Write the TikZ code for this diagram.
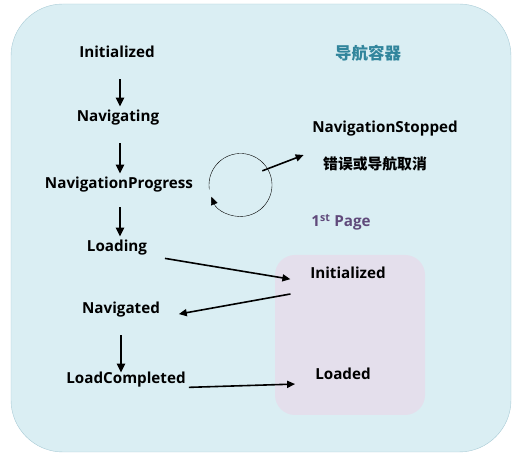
\documentclass[tikz,border=0pt]{standalone}
\usepackage{fontspec}
\setmainfont{Open Sans}
\newfontfamily\cjk{Noto Sans CJK SC}
\usepackage{tikz}
\usetikzlibrary{arrows.meta,calc}

\definecolor{navbg}{HTML}{DAEEF3}
\definecolor{navline}{HTML}{A9CBD6}
\definecolor{pagebg}{HTML}{E4DFEC}
\definecolor{navtitle}{HTML}{31859C}
\definecolor{pagetitle}{HTML}{604A7B}

\tikzset{
  state/.style={font=\fontsize{15.2}{17}\selectfont\bfseries, inner sep=0pt, text height=11pt, text depth=3.5pt},
  flow/.style={-{Triangle[length=9pt,width=8pt]}, line width=2.3pt, shorten <=18pt, shorten >=4pt},
  jump/.style={-{Triangle[length=8pt,width=7pt]}, line width=1.6pt},
}

\begin{document}
\begin{tikzpicture}[x=1pt,y=1pt]
			\useasboundingbox (0,0) rectangle (517,455);
			\draw[navline, fill=navbg, rounded corners=52pt] (11,3) rectangle (511,451);
			\fill[pagebg, rounded corners=20pt] (275,40) rectangle (425,200);
			
			\node [state] (init) at (117,401) {Initialized};
			\node [state] (navg) at (118,337) {Navigating};
			\node [state] (prog) at (119,270) {NavigationProgress};
			\node [state] (load) at (117,207) {Loading};
			\node [state] (navd) at (121,145) {Navigated};
			\node [state] (done) at (126,75) {LoadCompleted};
			
			\node [font=\fontsize{16.5}{18}\selectfont\cjk\bfseries, navtitle] (title) at (368,402) {导航容器};
			\node [state] (stop) at (385,326) {NavigationStopped};
			\node [font=\fontsize{14.8}{16}\selectfont\cjk\bfseries] (err) at (375,291) {错误或导航取消};
			\node [state, pagetitle] (page) at (341,232) {1\textsuperscript{st} Page};
			\node [state] (pinit) at (348,180) {Initialized};
			\node [state] (ploaded) at (343,79) {Loaded};
			
			\coordinate (spine) at (120,0);
			\draw [flow] (init.south -| spine) -- (navg.north -| spine);
			\draw [flow] (navg.south -| spine) -- (prog.north -| spine);
			\draw [flow, shorten <=15pt] (prog.south -| spine) -- (load.north -| spine);
			\draw [flow, shorten >=0pt] (navd.south -| navd) -- (done.north -| navd);
			
			\draw [jump, shorten <=18pt, shorten >=20pt] (load.south east) -- (pinit.south west);
			\draw [jump, shorten <=20pt, shorten >=19pt] ([yshift=-8pt]pinit.south west) -- (navd.south east);
			\draw [jump, shorten <=3pt, shorten >=20pt] (done.south east) -- (ploaded.south west);
			
			\coordinate (loop) at (240.5,270);
			\draw [-{Triangle[length=8pt,width=7pt]}, thin] ($(loop)+(188:31.5)$) arc[start angle=188, end angle=-158, radius=31.5];
			\coordinate (loopout) at ($(loop)+(33:26)$);
			\draw [jump] (loopout) -- ([shift={(-16pt,9pt)}]err.west);
\end{tikzpicture}
\end{document}
